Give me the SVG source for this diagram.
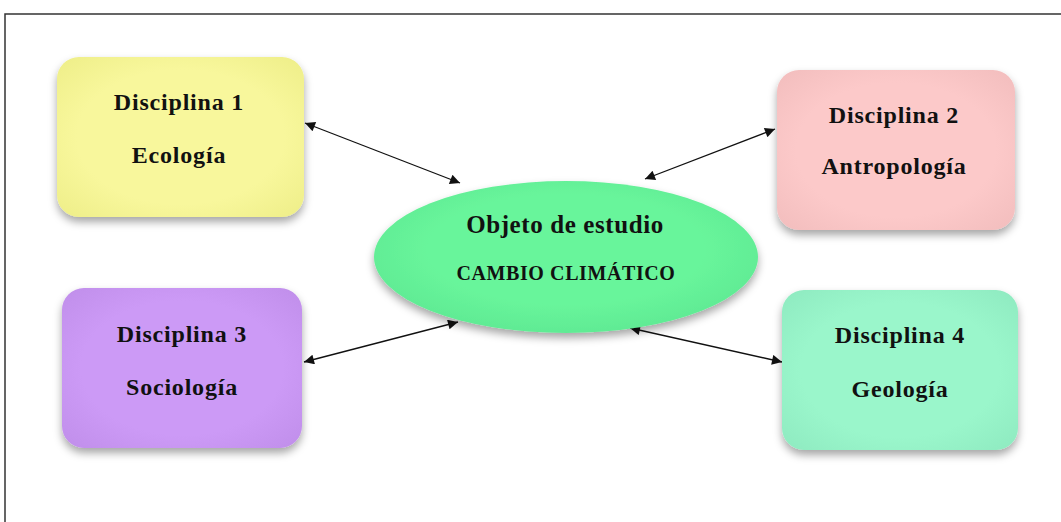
<svg xmlns="http://www.w3.org/2000/svg" width="1061" height="522" viewBox="0 0 1061 522">
<style>
.t{font-family:"Liberation Serif","Times New Roman",serif;font-weight:bold;fill:#111;text-anchor:middle}
.big{font-size:24px;letter-spacing:0.8px}
.obj{font-size:25px;letter-spacing:0.6px}
.sm{font-size:20px;letter-spacing:0.6px}
.box{filter:url(#sh)}
.con{stroke:#111;stroke-width:1.3;fill:none;marker-start:url(#ah);marker-end:url(#ah)}
</style>
<defs>
<filter id="sh" x="-20%" y="-20%" width="140%" height="150%">
<feDropShadow dx="0" dy="5" stdDeviation="4" flood-color="#000" flood-opacity="0.35"/>
</filter>
<marker id="ah" viewBox="0 0 10 10" refX="10" refY="5" markerWidth="14" markerHeight="10" markerUnits="userSpaceOnUse" orient="auto-start-reverse">
<path d="M0,0 L10,5 L0,10 z" fill="#111"/>
</marker>
<radialGradient id="gy" cx="0.5" cy="0.5" r="0.7"><stop offset="0.6" stop-color="#f8f79c"/><stop offset="1" stop-color="#eeee88"/></radialGradient>
<radialGradient id="gp" cx="0.5" cy="0.5" r="0.7"><stop offset="0.6" stop-color="#fcc9c9"/><stop offset="1" stop-color="#f2bdbd"/></radialGradient>
<radialGradient id="gv" cx="0.5" cy="0.5" r="0.7"><stop offset="0.6" stop-color="#cc9af6"/><stop offset="1" stop-color="#c08eea"/></radialGradient>
<radialGradient id="gg" cx="0.5" cy="0.5" r="0.7"><stop offset="0.6" stop-color="#9af6cb"/><stop offset="1" stop-color="#8eeac0"/></radialGradient>
<radialGradient id="ge" cx="0.5" cy="0.45" r="0.6"><stop offset="0.6" stop-color="#68f59b"/><stop offset="1" stop-color="#5ee892"/></radialGradient>
</defs>
<path d="M5,522 L5,14 L1061,14" fill="none" stroke="#333" stroke-width="1.5"/>
<g id="connectors">
<line class="con" x1="305" y1="123" x2="460" y2="183"/>
<line class="con" x1="645" y1="179" x2="775" y2="129"/>
<line class="con" x1="304" y1="362" x2="458" y2="322"/>
<line class="con" x1="630" y1="328" x2="782" y2="362"/>
</g>
<g id="n1"><rect class="box" x="57" y="57" width="247" height="160" rx="22" fill="url(#gy)"/>
<text class="t big" x="179" y="110">Disciplina 1</text><text class="t big" x="179" y="163">Ecología</text></g>
<g id="n2"><rect class="box" x="777" y="70" width="238" height="160" rx="22" fill="url(#gp)"/>
<text class="t big" x="894" y="123">Disciplina 2</text><text class="t big" x="894" y="174">Antropología</text></g>
<g id="n3"><rect class="box" x="62" y="288" width="240" height="160" rx="22" fill="url(#gv)"/>
<text class="t big" x="182" y="342">Disciplina 3</text><text class="t big" x="182" y="395">Sociología</text></g>
<g id="n4"><rect class="box" x="782" y="290" width="236" height="160" rx="22" fill="url(#gg)"/>
<text class="t big" x="900" y="343">Disciplina 4</text><text class="t big" x="900" y="397">Geología</text></g>
<g id="center"><ellipse class="box" cx="566" cy="257" rx="192" ry="76" fill="url(#ge)"/>
<text class="t obj" x="565" y="233">Objeto de estudio</text><text class="t sm" x="566" y="280">CAMBIO CLIMÁTICO</text></g>
</svg>
